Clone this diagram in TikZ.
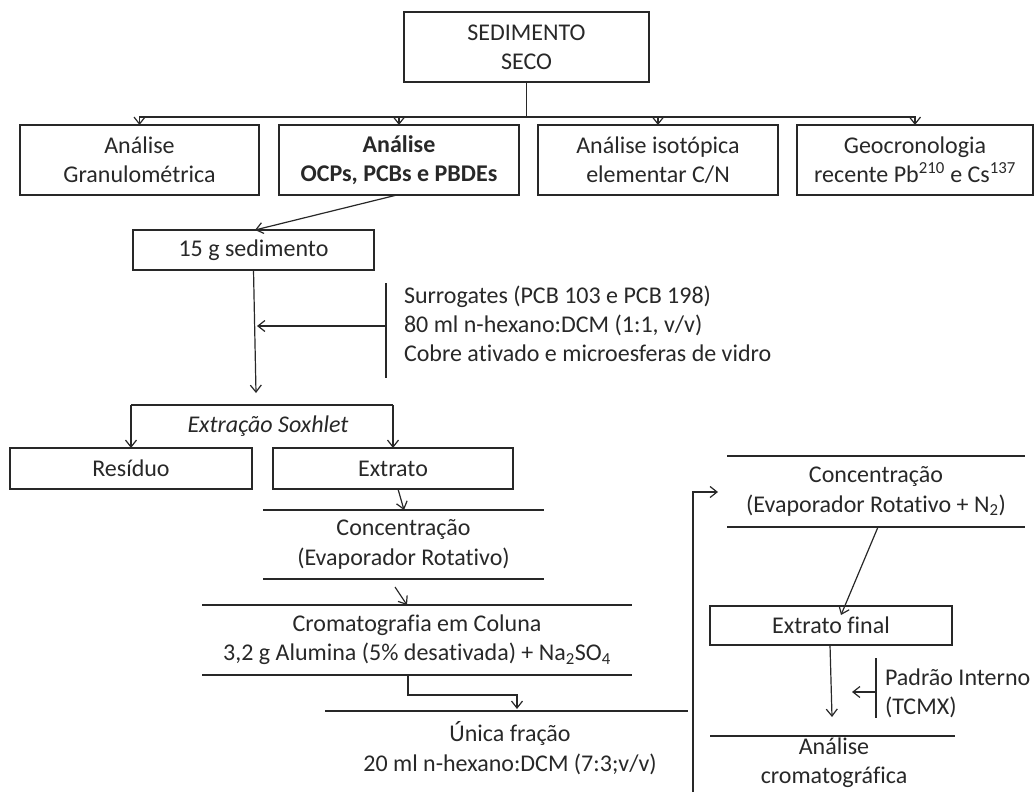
\documentclass[tikz,border=0pt]{standalone}
\usepackage{fontspec}
\setmainfont{Carlito}[Ligatures=NoCommon]
\usetikzlibrary{arrows.meta}
\definecolor{ink}{RGB}{40,40,40}
\newcommand\dgfont{\fontsize{24}{29.3}\selectfont}
\tikzset{
  every node/.style={font=\dgfont, text=ink, inner sep=0pt, outer sep=0pt, align=center},
  boxn/.style={draw=ink, line width=1.2pt},
  plain/.style={draw=ink, line width=1.2pt},
  arr/.style={draw=ink, line width=1.2pt, -{Straight Barb[length=7pt,width=11pt]}},
}
\begin{document}
\begin{tikzpicture}[x=1pt,y=-1pt]
\useasboundingbox (0,0) rectangle (1035,792);

% top
\node[boxn, minimum width=245, minimum height=70] (sed) at (526.5,47) {SEDIMENTO\\SECO};
\node[boxn, minimum width=239, minimum height=70] (b1) at (139.5,160) {Análise\\Granulométrica};
\node[boxn, minimum width=240, minimum height=70] (b2) at (399,160) {\textbf{Análise}\\\textbf{OCPs, PCBs e PBDEs}};
\node[boxn, minimum width=240, minimum height=70] (b3) at (658,160) {Análise isotópica\\elementar C/N};
\node[boxn, minimum width=236, minimum height=70] (b4) at (915,160) {Geocronologia\\recente Pb\textsuperscript{210} e Cs\textsuperscript{137}};
\coordinate (hub) at (526.5,117);
\draw[plain] (sed.south) -- (hub);
\draw[arr] (hub) -| (b1.north);
\draw[arr] (hub) -| (b2.north);
\draw[arr] (hub) -| (b3.north);
\draw[arr] (hub) -| (b4.north);

% 15 g
\node[boxn, minimum width=241, minimum height=40] (s15) at (253.5,250) {15 g sedimento};
\draw[arr] ([xshift=-2]b2.south) -- ([xshift=1.5]s15.north);
\coordinate (barT) at (386,283);
\coordinate (barB) at (386,378);
\coordinate (barM) at (386,326);
\draw[plain] (barT) -- (barB);
\node[anchor=west, align=left] (surr) at (404,324) {Surrogates (PCB 103 e PCB 198)\\80 ml n-hexano:DCM (1:1, v/v)\\Cobre ativado e microesferas de vidro};
\coordinate (soxIn) at (256,393);
\draw[arr] (s15.south) -- (soxIn);
\draw[arr] (barM) -- (257,326);

% Soxhlet
\node[boxn, minimum width=242, minimum height=41] (res) at (131,468.5) {Resíduo};
\node[boxn, minimum width=240, minimum height=41] (ext) at (393,468.5) {Extrato};
\coordinate (soxL) at (131,405);
\coordinate (soxR) at (393,405);
\draw[plain] (soxL) -- (soxR);
\draw[arr] (soxL) -- (res.north);
\draw[arr] (soxR) -- (ext.north);
\node[font=\dgfont\itshape] (sox) at (268,426) {Extração Soxhlet};

% Concentracao 1
\node[minimum width=281, minimum height=69] (conc1) at (403.5,544.5) {Concentração\\(Evaporador Rotativo)};
\draw[plain] (conc1.north west) -- (conc1.north east);
\draw[plain] (conc1.south west) -- (conc1.south east);
\draw[arr] ([xshift=5]ext.south) -- ([xshift=0.5]conc1.north);

% Cromatografia
\node[minimum width=430, minimum height=70] (crom) at (417,640) {Cromatografia em Coluna\\3,2 g Alumina (5\% desativada) + Na\textsubscript{2}SO\textsubscript{4}};
\draw[plain] (crom.north west) -- (crom.north east);
\draw[plain] (crom.south west) -- (crom.south east);
\draw[arr] ([xshift=-8.5,yshift=-8]conc1.south) -- ([xshift=-10]crom.north);

% Unica
\node (unica) at (510,748) {Única fração\\20 ml n-hexano:DCM (7:3;v/v)};
\coordinate (unL) at (325,711);
\coordinate (unR) at (688,711);
\draw[plain] (unL) -- (unR);
\coordinate (elb) at (408,695);
\draw[arr] ([xshift=-9]crom.south) -- (elb) -- (517,695) -- (517,709);

% right column
\node[minimum width=298, minimum height=71] (conc2) at (876,491.5) {Concentração\\(Evaporador Rotativo + N\textsubscript{2})};
\draw[plain] (conc2.north west) -- (conc2.north east);
\draw[plain] (conc2.south west) -- (conc2.south east);
\coordinate (rvB) at (693,792);
\coordinate (rvT) at (693,492);
\draw[arr] (rvB) -- (rvT) -- ([xshift=-9]conc2.west |- rvT);

\node[boxn, minimum width=242, minimum height=39] (fin) at (831,625.5) {Extrato final};
\draw[arr] ([xshift=2]conc2.south) -- ([xshift=10,yshift=-9]fin.north);

\node (ana) at (834,763) {Análise\\cromatográfica};
\coordinate (anL) at (710,736);
\coordinate (anR) at (955,736);
\draw[plain] (anL) -- (anR);
\draw[arr] ([xshift=-1]fin.south) -- (832,717);

\coordinate (pbT) at (876,658);
\coordinate (pbB) at (876,718);
\coordinate (pbM) at (876,692);
\draw[plain] (pbT) -- (pbB);
\draw[arr] (pbM) -- (852,692);
\node[anchor=west, align=left] (pad) at (885,693) {Padrão Interno\\(TCMX)};
\end{tikzpicture}
\end{document}
